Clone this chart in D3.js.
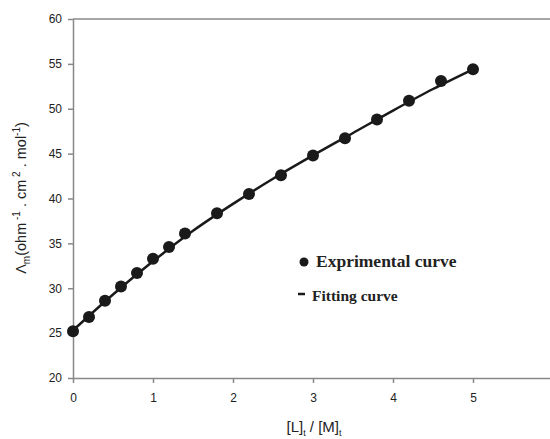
<!DOCTYPE html>
<html>
<head>
<meta charset="utf-8">
<script src="https://cdnjs.cloudflare.com/ajax/libs/d3/7.8.5/d3.min.js"></script>
<style>
body { margin: 0; background: #fff; }
text { font-family: Arial, "Liberation Sans", sans-serif; }
.axis path, .axis line { stroke: #888; stroke-width: 1.5; fill: none; }
.axis text { font-size: 12px; fill: #222; }
</style>
</head>
<body>
<div id="grafico"></div>
<script>
// datos experimentales
var ratio = [0, 0.2, 0.4, 0.6, 0.8, 1.0, 1.2, 1.4, 1.8, 2.2, 2.6, 3.0, 3.4, 3.8, 4.2, 4.6, 5.0];
var conduct = [25.2, 26.8, 28.6, 30.2, 31.7, 33.3, 34.6, 36.1, 38.35, 40.5, 42.6, 44.8, 46.7, 48.8, 50.9, 53.1, 54.4];
// curva ajustada
var fitX = [0, 0.5, 1, 1.5, 2, 2.5, 3, 3.5, 4, 4.5, 5];
var fitY = [25.3, 29.3, 33.0, 36.4, 39.4, 42.2, 44.8, 47.3, 49.8, 52.2, 54.4];
var xTicks = [0, 1, 2, 3, 4, 5, 6];
var yTicks = [20, 25, 30, 35, 40, 45, 50, 55, 60];

var W = 550, H = 439;
var svg = d3.select("#grafico").append("svg")
	.attr("width", W)
	.attr("height", H);

var x = d3.scaleLinear().domain([0, 6]).range([73, 553]);
var y = d3.scaleLinear().domain([20, 60]).range([378, 19]);

// linea superior
svg.append("line")
	.attr("x1", x(0)).attr("x2", x(6))
	.attr("y1", y(60)).attr("y2", y(60))
	.attr("stroke", "#888").attr("stroke-width", 1.5);

svg.append("g")
	.attr("class", "axis")
	.attr("transform", "translate(0," + y(20) + ")")
	.call(d3.axisBottom(x).tickValues(xTicks).tickFormat(d3.format("d")).tickSize(5).tickPadding(10).tickSizeOuter(0));

svg.append("g")
	.attr("class", "axis")
	.attr("transform", "translate(" + x(0) + ",0)")
	.call(d3.axisLeft(y).tickValues(yTicks).tickSize(5).tickPadding(6).tickSizeOuter(0));

// curva ajustada
var linea = d3.line()
	.x(function(d) { return x(d[0]); })
	.y(function(d) { return y(d[1]); })
	.curve(d3.curveMonotoneX);

svg.append("path")
	.datum(fitX.map(function(v, i) { return [v, fitY[i]]; }))
	.attr("d", linea)
	.attr("fill", "none")
	.attr("stroke", "#1a1a1a")
	.attr("stroke-width", 2.5);

svg.selectAll(".punto")
	.data(ratio.map(function(v, i) { return [v, conduct[i]]; }))
	.enter().append("circle")
	.attr("class", "punto")
	.attr("cx", function(d) { return x(d[0]); })
	.attr("cy", function(d) { return y(d[1]); })
	.attr("r", 6)
	.attr("fill", "#1a1a1a");

// leyenda
svg.append("circle").attr("cx", 304).attr("cy", 262).attr("r", 4.5).attr("fill", "#1a1a1a");
svg.append("text").attr("x", 316).attr("y", 267)
	.style("font-family", "'Liberation Serif', 'Times New Roman', serif")
	.style("font-weight", "bold").style("font-size", "17.5px").attr("fill", "#222")
	.text("Exprimental curve");
svg.append("line").attr("x1", 298).attr("x2", 305).attr("y1", 294).attr("y2", 294)
	.attr("stroke", "#1a1a1a").attr("stroke-width", 2.5);
svg.append("text").attr("x", 312).attr("y", 301)
	.style("font-family", "'Liberation Serif', 'Times New Roman', serif")
	.style("font-weight", "bold").style("font-size", "15.5px").attr("fill", "#222")
	.text("Fitting curve");

// titulo eje x
var tx = svg.append("text")
	.attr("x", 314).attr("y", 432)
	.attr("text-anchor", "middle")
	.style("font-size", "15px").attr("fill", "#222");
tx.append("tspan").text("[L]");
tx.append("tspan").attr("dy", 4).style("font-size", "9px").text("t");
tx.append("tspan").attr("dy", -4).text(" / [M]");
tx.append("tspan").attr("dy", 4).style("font-size", "9px").text("t");

// titulo eje y
var ty = svg.append("text")
	.attr("transform", "translate(26,198) rotate(-90)")
	.attr("text-anchor", "middle")
	.style("font-size", "14.5px").attr("fill", "#222");
ty.append("tspan").text("Λ");
ty.append("tspan").attr("dy", 4).style("font-size", "10px").text("m");
ty.append("tspan").attr("dy", -4).text("(ohm");
ty.append("tspan").attr("dy", -6).style("font-size", "10px").text(" -1");
ty.append("tspan").attr("dy", 6).text(" . cm");
ty.append("tspan").attr("dy", -6).style("font-size", "10px").text(" 2");
ty.append("tspan").attr("dy", 6).text(" . mol");
ty.append("tspan").attr("dy", -6).style("font-size", "10px").text("-1");
ty.append("tspan").attr("dy", 6).text(")");
</script>
</body>
</html>
